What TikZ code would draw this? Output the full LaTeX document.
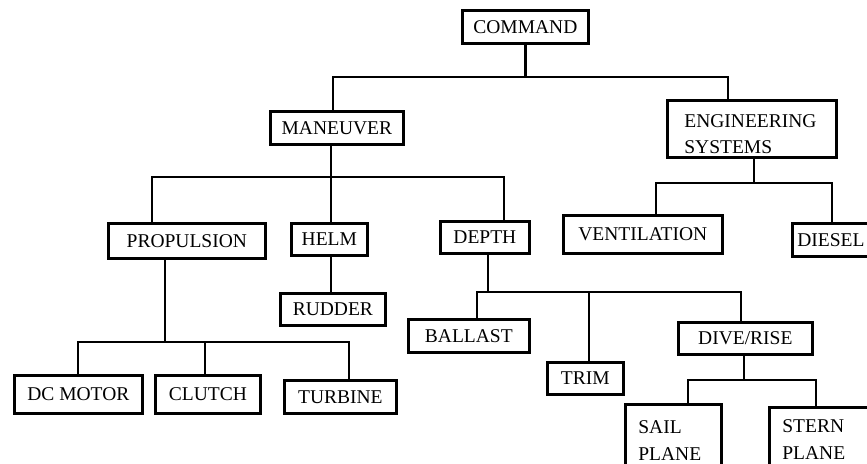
\documentclass[tikz,border=0pt]{standalone}
\usepackage{fontspec}
\setmainfont{Liberation Serif}
\begin{document}
\begin{tikzpicture}[x=1pt,y=-1pt,
  box/.style={draw, line width=2.7pt, rectangle, inner sep=0pt, anchor=north west,
    font=\fontsize{19.5}{26.5}\selectfont},
  conn/.style={line width=2.6pt, line join=miter}]
\useasboundingbox (0,0) rectangle (867,463);
\clip (0,0) rectangle (867,463);
% boxes
\node[box, minimum width=126pt, minimum height=33pt] (cmd) at (461,9) {COMMAND};
\node[box, minimum width=133pt, minimum height=33pt] (man) at (269,110) {MANEUVER};
\node[box, minimum height=57pt, text width=135pt, inner xsep=17pt, align=left] (eng) at (666,99) {\rule{0pt}{23pt}ENGINEERING\\SYSTEMS};
\node[box, minimum width=157pt, minimum height=35pt] (prop) at (107,222) {PROPULSION};
\node[box, minimum width=76pt, minimum height=32pt] (helm) at (290,222) {HELM};
\node[box, minimum width=105pt, minimum height=32pt] (rud) at (279,292) {RUDDER};
\node[box, minimum width=89pt, minimum height=32pt] (depth) at (439,220) {DEPTH};
\node[box, minimum width=159pt, minimum height=38pt] (vent) at (562,214) {VENTILATION};
\node[box, minimum height=33pt, text width=70pt, inner xsep=5pt, align=left] (diesel) at (791,222) {DIESEL};
\node[box, minimum width=128pt, minimum height=38pt] (dc) at (13,374) {DC MOTOR};
\node[box, minimum width=105pt, minimum height=38pt] (clutch) at (154,374) {CLUTCH};
\node[box, minimum width=112pt, minimum height=33pt] (turb) at (283,379) {TURBINE};
\node[box, minimum width=121pt, minimum height=33pt] (ballast) at (407,318) {BALLAST};
\node[box, minimum width=76pt, minimum height=32pt] (trim) at (546,361) {TRIM};
\node[box, minimum width=134pt, minimum height=32pt] (dive) at (677,321) {DIVE/RISE};
\node[box, minimum height=72pt, text width=70pt, inner xsep=13pt, align=left] (sail) at (624,403) {SAIL\\PLANE};
\node[box, minimum height=64pt, text width=99pt, inner xsep=13pt, align=left] (stern) at (768,406) {STERN\\PLANE};
% bus coordinates
\coordinate (b1l) at (333,77); \coordinate (b1r) at (728,77);
\coordinate (b2l) at (152,177); \coordinate (b2m) at (331,177); \coordinate (b2r) at (504,177);
\coordinate (b3s) at (165,342); \coordinate (b3l) at (78,342); \coordinate (b3m) at (205,342); \coordinate (b3r) at (349,342);
\coordinate (b4s) at (488,292); \coordinate (b4l) at (477,292); \coordinate (b4m) at (589,292); \coordinate (b4r) at (741,292);
\coordinate (b5s) at (754,183); \coordinate (b5l) at (656,183); \coordinate (b5r) at (832,183);
\coordinate (b6s) at (744,380); \coordinate (b6l) at (688,380); \coordinate (b6r) at (816,380);
% connectors
\draw[conn] (cmd.south) -- (cmd.south |- b1l);
\draw[conn] (b1l |- man.north) -- (b1l) -- (b1r) -- (b1r |- eng.north);
\draw[conn] (b2m |- man.south) -- (b2m |- helm.north);
\draw[conn] (b2l |- prop.north) -- (b2l) -- (b2r) -- (b2r |- depth.north);
\draw[conn] (b2m |- helm.south) -- (b2m |- rud.north);
\draw[conn] (b3s |- prop.south) -- (b3s);
\draw[conn] (b3l |- dc.north) -- (b3l) -- (b3r) -- (b3r |- turb.north);
\draw[conn] (b3m) -- (b3m |- clutch.north);
\draw[conn] (b4s |- depth.south) -- (b4s);
\draw[conn] (b4l |- ballast.north) -- (b4l) -- (b4r) -- (b4r |- dive.north);
\draw[conn] (b4m) -- (b4m |- trim.north);
\draw[conn] (b5s |- eng.south) -- (b5s);
\draw[conn] (b5l |- vent.north) -- (b5l) -- (b5r) -- (b5r |- diesel.north);
\draw[conn] (b6s |- dive.south) -- (b6s);
\draw[conn] (b6l |- sail.north) -- (b6l) -- (b6r) -- (b6r |- stern.north);
\end{tikzpicture}
\end{document}
